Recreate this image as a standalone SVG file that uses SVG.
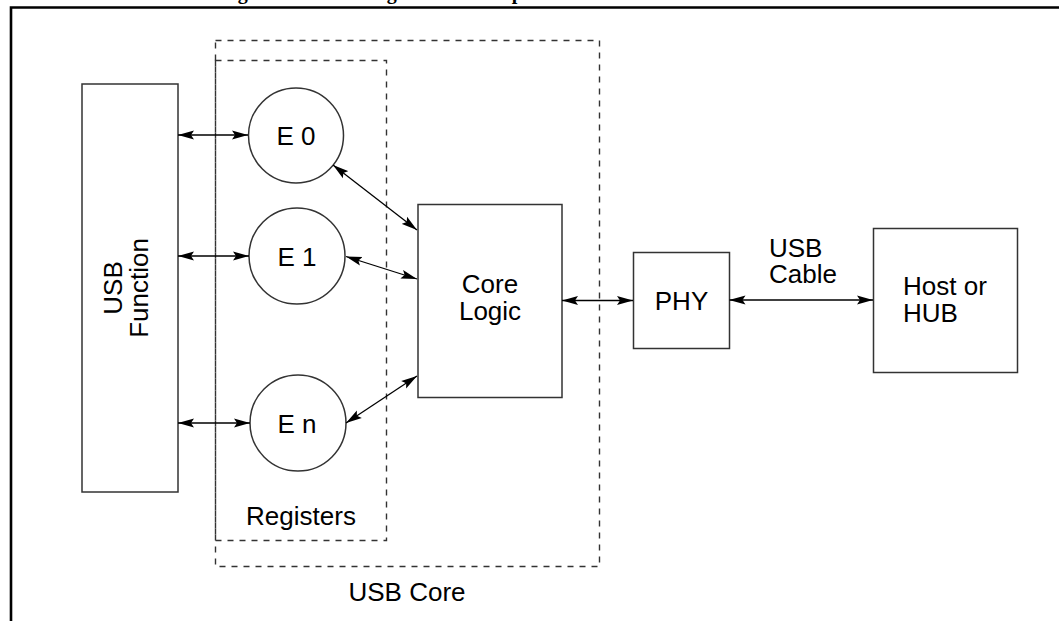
<svg xmlns="http://www.w3.org/2000/svg" width="1059" height="621" viewBox="0 0 1059 621">
<style>
.box{fill:#fff;stroke:#333;stroke-width:1.5}
.dash{fill:none;stroke:#333;stroke-width:1.4;stroke-dasharray:6 6}
.lbl{font-family:"Liberation Sans",Arial,sans-serif;font-size:26px;fill:#000}
.c{text-anchor:middle}
.con{stroke:#000;stroke-width:1.3;fill:none;marker-start:url(#ah);marker-end:url(#ah)}
.frame{stroke:#000;stroke-width:2.6;fill:none}
</style>
<defs>
<marker id="ah" markerUnits="userSpaceOnUse" viewBox="0 0 16 10" refX="16" refY="5" markerWidth="16" markerHeight="10" orient="auto-start-reverse">
<path d="M0,0.5 L16,5 L0,9.5 L3,5 z" fill="#000"/>
</marker>
</defs>
<rect width="1059" height="621" fill="#fff"/>
<text x="220" y="-1.5" font-family="Liberation Serif,serif" font-weight="bold" font-size="20">Figure 1: Block Diagram of the Top Level</text>
<path class="frame" d="M11,621 V7.5 H1059"/>

<g id="usb-core">
<rect class="dash" x="215.5" y="40.5" width="384" height="526"/>
<text class="lbl c" x="407" y="601">USB Core</text>
</g>
<g id="registers">
<rect class="dash" x="215.5" y="60.5" width="171" height="480"/>
<text class="lbl c" x="301" y="525">Registers</text>
</g>

<g id="usb-function">
<rect class="box" x="82" y="84" width="96" height="408"/>
<text class="lbl c" transform="translate(122,288) rotate(-90)">USB</text>
<text class="lbl c" transform="translate(148,288) rotate(-90)">Function</text>
</g>

<g id="e0">
<circle class="box" cx="296" cy="135.5" r="47.5"/>
<text class="lbl c" x="296" y="144.5">E 0</text>
</g>
<g id="e1">
<circle class="box" cx="297" cy="256" r="48"/>
<text class="lbl c" x="297" y="265.5">E 1</text>
</g>
<g id="en">
<circle class="box" cx="298" cy="423" r="48"/>
<text class="lbl c" x="297" y="432.5">E n</text>
</g>

<g id="core-logic">
<rect class="box" x="418" y="204.5" width="144" height="193"/>
<text class="lbl c" x="490" y="293">Core</text>
<text class="lbl c" x="490" y="319.5">Logic</text>
</g>

<g id="phy">
<rect class="box" x="633.5" y="252.5" width="96" height="96"/>
<text class="lbl c" x="681.5" y="309.5">PHY</text>
</g>

<g id="host">
<rect class="box" x="873.5" y="228.5" width="144" height="144"/>
<text class="lbl" x="903" y="295">Host or</text>
<text class="lbl" x="903" y="322">HUB</text>
</g>

<g id="cable-label">
<text class="lbl" x="769" y="257">USB</text>
<text class="lbl" x="769" y="283">Cable</text>
</g>

<g id="connectors">
<line class="con" x1="178" y1="135" x2="248" y2="135"/>
<line class="con" x1="178" y1="256" x2="249" y2="256"/>
<line class="con" x1="178" y1="423" x2="250" y2="423"/>
<line class="con" x1="333" y1="165" x2="417" y2="230"/>
<line class="con" x1="346" y1="256.5" x2="417" y2="279"/>
<line class="con" x1="346" y1="423" x2="417" y2="376"/>
<line class="con" x1="562" y1="300.5" x2="633" y2="300.5"/>
<line class="con" x1="729.5" y1="300" x2="873" y2="300"/>
</g>
</svg>
